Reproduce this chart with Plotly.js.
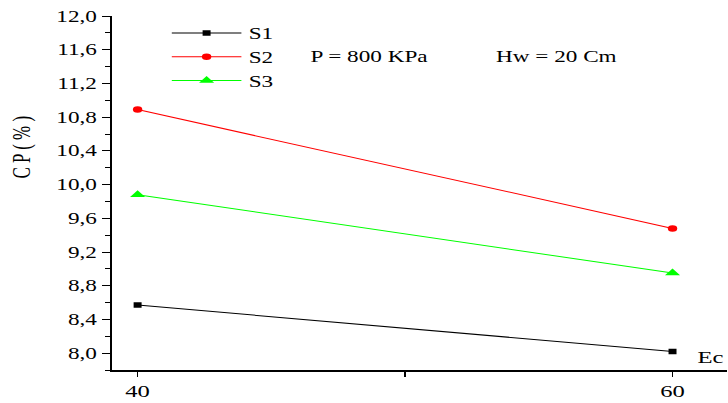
<!DOCTYPE html>
<html>
<head>
<meta charset="utf-8">
<script src="https://cdn.plot.ly/plotly-3.0.1.min.js"></script>
<style>
html,body{margin:0;padding:0;background:#fff;overflow:hidden}
#wrap{width:728px;height:403px;overflow:hidden}
#chart{width:502px;height:403px;transform:scaleX(1.4502);transform-origin:0 0}
</style>
</head>
<body>
<div id="wrap"><div id="chart"></div></div>
<script>
const ec = [40, 60];
const s1 = [8.57, 8.02];
const s2 = [10.89, 9.48];
const s3 = [9.88, 8.95];
const seriesNames = ['S1', 'S2', 'S3'];
const xTickVals = [40, 50, 60];
const xTickText = ['40', '', '60'];
const yTickVals = [8.0, 8.4, 8.8, 9.2, 9.6, 10.0, 10.4, 10.8, 11.2, 11.6, 12.0];
const yTickText = ['8,0', '8,4', '8,8', '9,2', '9,6', '10,0', '10,4', '10,8', '11,2', '11,6', '12,0'];

const font = "'Liberation Serif', 'Times New Roman', 'DejaVu Serif', serif";
const traces = [
  {x: ec, y: s1, name: seriesNames[0], mode: 'lines+markers',
   line: {color: '#000000', width: 1}, marker: {symbol: 'square', size: 5.5, color: '#000000'}},
  {x: ec, y: s2, name: seriesNames[1], mode: 'lines+markers',
   line: {color: '#ff0000', width: 1}, marker: {symbol: 'circle', size: 6.5, color: '#ff0000'}},
  {x: ec, y: s3, name: seriesNames[2], mode: 'lines+markers',
   line: {color: '#00ff00', width: 1}, marker: {symbol: 'triangle-up', size: 9, color: '#00ff00'}}
];
const layout = {
  width: 502, height: 403,
  margin: {l: 77.2, r: 1.4, t: 16, b: 33},
  paper_bgcolor: '#fff', plot_bgcolor: '#fff',
  font: {family: font, size: 16, color: '#000'},
  showlegend: true,
  legend: {x: 0.086, y: 1.0, xanchor: 'left', yanchor: 'top', bgcolor: 'rgba(0,0,0,0)',
           font: {family: font, size: 16}, tracegroupgap: 0, itemwidth: 48},
  xaxis: {range: [39.03, 62.02], tickvals: xTickVals, ticktext: xTickText,
          showline: true, linecolor: '#000', linewidth: 1.5, ticks: 'outside', ticklen: 5,
          tickcolor: '#000', showgrid: false, zeroline: false, tickfont: {family: font, size: 17}},
  yaxis: {range: [7.8, 12.0], tickvals: yTickVals, ticktext: yTickText,
          showline: true, linecolor: '#000', linewidth: 1, ticks: 'outside', ticklen: 6,
          tickcolor: '#000', showgrid: false, zeroline: false, tickfont: {family: font, size: 16},
          minor: {dtick: 0.2, ticks: 'outside', ticklen: 3.5, tickcolor: '#000', showgrid: false}},
  annotations: [
    {xref: 'paper', yref: 'paper', x: -0.145, y: 0.63, xanchor: 'center', yanchor: 'middle',
     text: 'C P ( % )', textangle: -90, showarrow: false, font: {family: font, size: 17}},
    {xref: 'paper', yref: 'paper', x: 0.319, y: 0.887, xanchor: 'left', yanchor: 'middle',
     text: 'P = 800 KPa', showarrow: false, font: {family: font, size: 16}},
    {xref: 'paper', yref: 'paper', x: 0.621, y: 0.887, xanchor: 'left', yanchor: 'middle',
     text: 'Hw = 20 Cm', showarrow: false, font: {family: font, size: 16}},
    {xref: 'paper', yref: 'paper', x: 1.0, y: 0.034, xanchor: 'right', yanchor: 'middle',
     text: 'Ec', showarrow: false, font: {family: font, size: 17}}
  ]
};
Plotly.newPlot('chart', traces, layout, {displayModeBar: false, staticPlot: true});
</script>
</body>
</html>
